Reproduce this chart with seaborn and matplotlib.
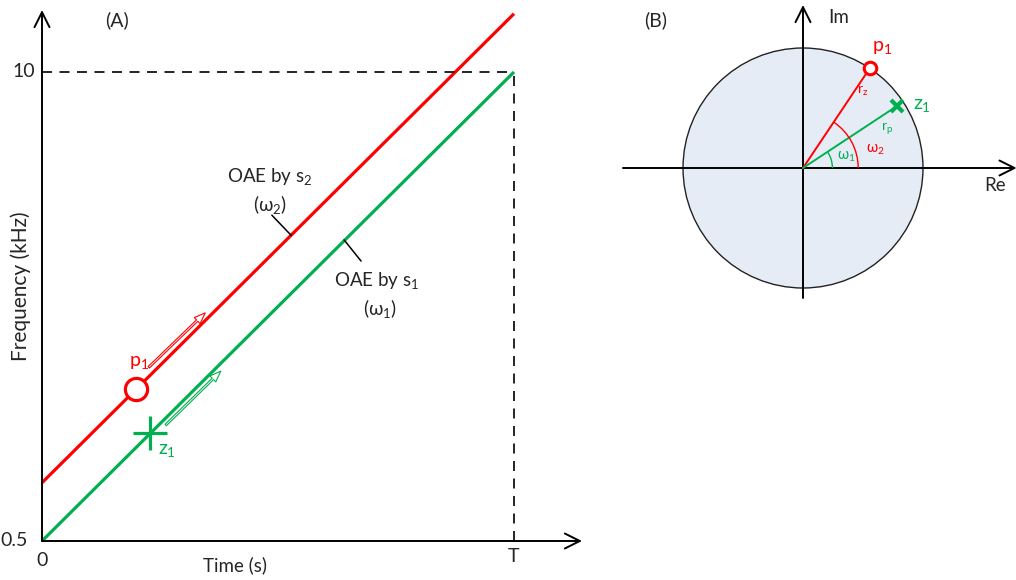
import numpy as np
import pandas as pd
import matplotlib
matplotlib.use("Agg")
import matplotlib.pyplot as plt
import seaborn as sns
from matplotlib.patches import Circle, Arc, FancyArrowPatch

sns.set_theme(style="white")
plt.rcParams["font.family"] = ["Lato", "DejaVu Sans"]
plt.rcParams["mathtext.default"] = "regular"

RED = "#FF0000"
GREEN = "#00B050"

# ---- panel (A): frequency sweeps versus time ----
time_pts = [0.0, 1.0]                 # 0 .. T
freq_s1 = [0.5, 10.0]                 # OAE by s1 (kHz)
freq_s2 = [1.68, 11.18]               # OAE by s2 (kHz)
f_min, f_max = 0.5, 10.0
y_tick_labels = ["0.5", "10"]
x_tick_labels = ["0", "T"]
pole_a = (0.199, 3.57)                # p1 on the s2 sweep
zero_a = (0.229, 2.68)                # z1 on the s1 sweep

# ---- panel (B): unit circle in the z-plane ----
omega1_deg = 33.4
omega2_deg = 56.2
r_pole = 1.0
r_zero = 0.94

fig = plt.figure(figsize=(10.16, 5.8), dpi=100)

# axes for panel A (time 0..T spans 472 px, 0.5..10 kHz spans 469 px)
axA = fig.add_axes([0, 0, 610 / 1016, 1])
tpp = 1 / 472
fpp = 9.5 / 469
axA.set_xlim(-42 * tpp, (610 - 42) * tpp)
axA.set_ylim(0.5 - 39 * fpp, 10 + 72 * fpp)
axA.axis("off")

df = pd.DataFrame({
    "t": time_pts * 2,
    "f": freq_s1 + freq_s2,
    "src": ["s1"] * 2 + ["s2"] * 2,
})
sns.lineplot(data=df, x="t", y="f", hue="src", palette={"s1": GREEN, "s2": RED},
             linewidth=2.3, legend=False, ax=axA, solid_capstyle="butt")

# axes with arrowheads
ax_kw = dict(arrowstyle="->,head_length=0.9,head_width=0.45", color="black", lw=1.4,
             shrinkA=0, shrinkB=0)
axA.annotate("", xy=(0, 0.5 + 531 * fpp), xytext=(0, f_min), arrowprops=ax_kw)
axA.annotate("", xy=(540 * tpp, f_min), xytext=(0, f_min), arrowprops=ax_kw)

# dashed guides at (T, 10 kHz)
axA.plot([0, 1], [f_max, f_max], color="black", lw=1.2, ls=(0, (6, 4.5)))
axA.plot([1, 1], [f_min, f_max], color="black", lw=1.2, ls=(0, (6, 4.5)))

# pole and zero markers
axA.plot(*pole_a, marker="o", ms=16, mfc="white", mec=RED, mew=2.3)
axA.plot(*zero_a, marker="+", ms=24, color=GREEN, mew=2.3)

# direction arrows along the sweeps
for (t0, f0, t1, f1, c) in [(0.222, 3.98, 0.350, 5.16, RED),
                            (0.258, 2.81, 0.383, 3.98, GREEN)]:
    arr = FancyArrowPatch((t0, f0), (t1, f1),
                          arrowstyle="simple,head_length=0.8,head_width=0.6,tail_width=0.14",
                          mutation_scale=10, fc="white", ec=c, lw=0.8)
    axA.add_patch(arr)

fs = 13.5
axA.text(0.206, 4.11, "p$_1$", color=RED, fontsize=14, ha="center", va="center")
axA.text(0.265, 2.34, "z$_1$", color=GREEN, fontsize=14, ha="center", va="center")

# sweep labels with leader lines
axA.text(0.483, 7.89, "OAE by s$_2$", fontsize=fs, ha="center", va="center")
axA.text(0.483, 7.32, "(ω$_2$)", fontsize=fs, ha="center", va="center")
axA.plot([0.487, 0.528], [7.1, 6.69], color="black", lw=1.1)
axA.text(0.71, 5.78, "OAE by s$_1$", fontsize=fs, ha="center", va="center")
axA.text(0.716, 5.2, "(ω$_1$)", fontsize=fs, ha="center", va="center")
axA.plot([0.640, 0.676], [6.6, 6.17], color="black", lw=1.1)

# tick labels and axis titles
axA.text(-0.015, f_max, y_tick_labels[1], fontsize=14, ha="right", va="center")
axA.text(-0.031, f_min, y_tick_labels[0], fontsize=14, ha="right", va="center")
axA.text(0.0, 0.5 - 20 * fpp, x_tick_labels[0], fontsize=14, ha="center", va="center")
axA.text(1.0, 0.5 - 15 * fpp, x_tick_labels[1], fontsize=14, ha="center", va="center")
axA.text(0.408, 0.5 - 24 * fpp, "Time (s)", fontsize=fs, ha="center", va="center")
axA.text(-21 * tpp, 5.67, "Frequency (kHz)", fontsize=15, ha="center", va="center",
         rotation=90)
axA.text(0.159, 0.5 + 521 * fpp, "(A)", fontsize=14, ha="center", va="center")

# ---- panel B ----
axB = fig.add_axes([610 / 1016, 0, 406 / 1016, 1])
u = 120.0  # px per unit radius
axB.set_xlim((610 - 803) / u, (1016 - 803) / u)
axB.set_ylim(-(580 - 168) / u, 168 / u)
axB.axis("off")

axB.add_patch(Circle((0, 0), 1.0, fc="#E6ECF6", ec="#222222", lw=1.0, zorder=1))
axB_kw = dict(arrowstyle="->,head_length=0.9,head_width=0.45", color="black", lw=1.4,
              shrinkA=0, shrinkB=0)
axB.annotate("", xy=(0, 163 / u), xytext=(0, -130 / u), arrowprops=axB_kw, zorder=2)
axB.annotate("", xy=(1.78, 0), xytext=(-180 / u, 0), arrowprops=axB_kw, zorder=2,
             annotation_clip=False)

w1 = np.deg2rad(omega1_deg)
w2 = np.deg2rad(omega2_deg)
pole_b = (r_pole * np.cos(w2), r_pole * np.sin(w2))
zero_b = (r_zero * np.cos(w1), r_zero * np.sin(w1))
axB.plot([0, pole_b[0]], [0, pole_b[1]], color=RED, lw=1.4, zorder=3)
axB.plot([0, zero_b[0]], [0, zero_b[1]], color=GREEN, lw=1.4, zorder=3)
axB.add_patch(Arc((0, 0), 2 * 0.46, 2 * 0.46, theta1=0, theta2=omega2_deg,
                  color=RED, lw=1.0, zorder=3))
axB.add_patch(Arc((0, 0), 2 * 0.245, 2 * 0.245, theta1=0, theta2=omega1_deg,
                  color=GREEN, lw=1.0, zorder=3))
axB.plot(*pole_b, marker="o", ms=9, mfc="white", mec=RED, mew=2.2, zorder=4)
axB.plot(*zero_b, marker="x", ms=8, color=GREEN, mew=3.0, zorder=4)

axB.text(0.66, 1.0, "p$_1$", color=RED, fontsize=14, ha="center", va="center")
axB.text(0.99, 0.52, "z$_1$", color=GREEN, fontsize=14, ha="center", va="center")
axB.text(0.50, 0.64, "r$_z$", color=RED, fontsize=10, ha="center", va="center")
axB.text(0.70, 0.32, "r$_p$", color=GREEN, fontsize=10, ha="center", va="center")
axB.text(0.36, 0.09, "ω$_1$", color=GREEN, fontsize=10.5, ha="center", va="center")
axB.text(0.60, 0.15, "ω$_2$", color=RED, fontsize=10.5, ha="center", va="center")
axB.text(0.30, 1.25, "Im", fontsize=13.5, ha="center", va="center")
axB.text(1.6, -0.15, "Re", fontsize=13.5, ha="center", va="center")
axB.text(-1.23, 1.23, "(B)", fontsize=14, ha="center", va="center")

fig.savefig("out.png", dpi=100)
